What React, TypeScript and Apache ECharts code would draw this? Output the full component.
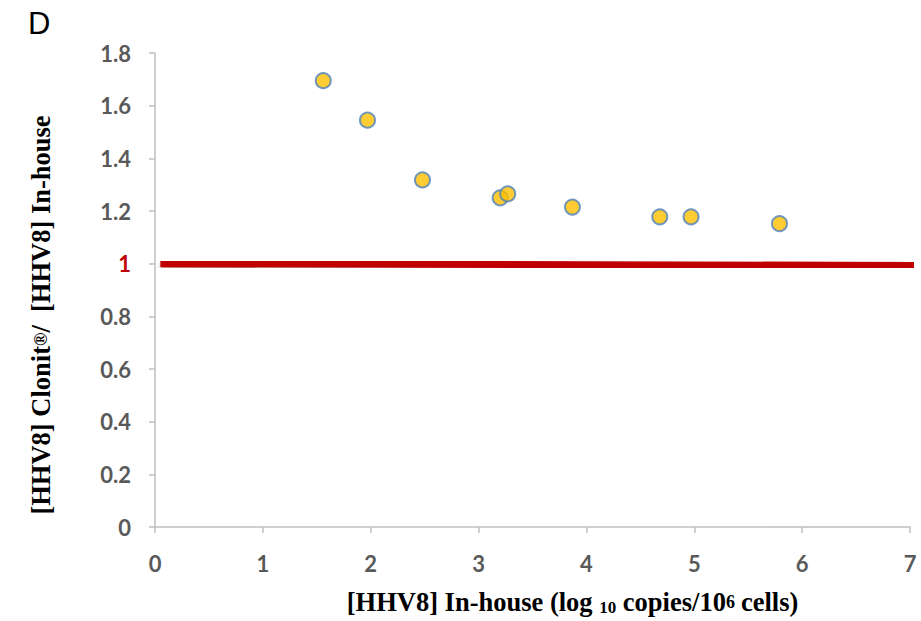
import React, { useEffect, useRef } from "react";
import * as echarts from "echarts";

const xValues = [1.56, 1.97, 2.48, 3.2, 3.27, 3.87, 4.68, 4.97, 5.79];
const yValues = [1.695, 1.545, 1.318, 1.25, 1.265, 1.215, 1.178, 1.178, 1.152];
const refLine = [
  [0.05, 1.0],
  [7.05, 0.993],
];
const xTicks = [0, 1, 2, 3, 4, 5, 6, 7];
const yTicks = [0, 0.2, 0.4, 0.6, 0.8, 1, 1.2, 1.4, 1.6, 1.8];

export default function App() {
  const ref = useRef<HTMLDivElement>(null);
  useEffect(() => {
    if (!ref.current) return;
    const chart = echarts.init(ref.current, undefined, { renderer: "svg" });
    const tickLabel = {
      fontFamily: "Lato",
      fontWeight: "bold" as const,
      fontSize: 22,
      color: "#595959",
    };
    const serif = "'Liberation Serif', 'Times New Roman', serif";
    chart.setOption({
      animation: false,
      backgroundColor: "#ffffff",
      grid: { left: 155, right: 11, top: 53, bottom: 82, containLabel: false },
      graphic: [
        {
          type: "text",
          left: 28,
          top: 8,
          style: { text: "D", fontSize: 31, fontFamily: "'Liberation Sans', Arial, sans-serif", fill: "#000" },
        },
      ],
      xAxis: {
        type: "value",
        min: xTicks[0],
        max: xTicks[xTicks.length - 1],
        interval: 1,
        splitLine: { show: false },
        axisLine: { show: true, lineStyle: { color: "#BFBFBF", width: 1.5 } },
        axisTick: { show: true, length: 6, lineStyle: { color: "#BFBFBF", width: 1.5 } },
        axisLabel: { ...tickLabel, margin: 25 },
        name: "{b|[HHV8] In-house (log }{sub|10}{b| copies/10}{sup|6}{b|cells)}",
        nameLocation: "middle",
        nameGap: 59,
        nameTextStyle: {
          padding: [0, 0, 0, 80],
          rich: {
            b: { fontFamily: serif, fontWeight: "bold", fontSize: 26.5, color: "#000", verticalAlign: "middle", height: 31 },
            sub: { fontFamily: serif, fontWeight: "bold", fontSize: 17, color: "#000", verticalAlign: "bottom", height: 31, padding: [0, 0, -6, 0] },
            sup: { fontFamily: serif, fontWeight: "bold", fontSize: 18, color: "#000", verticalAlign: "top", height: 31, padding: [0, 6, 0, 0] },
          },
        },
      },
      yAxis: {
        type: "value",
        min: 0,
        max: 1.8,
        interval: 0.2,
        splitLine: { show: false },
        axisLine: { show: true, lineStyle: { color: "#BFBFBF", width: 1.5 } },
        axisTick: { show: true, length: 6, lineStyle: { color: "#BFBFBF", width: 1.5 } },
        axisLabel: {
          ...tickLabel,
          margin: 24,
          formatter: (v: number) => {
            const s = String(Math.round(v * 10) / 10);
            return v === 1 ? "{red|" + s + "}" : s;
          },
          rich: {
            red: { fontFamily: "Lato", fontWeight: "bold", fontSize: 22, color: "#C00000" },
          },
        },
        name: "{b|[HHV8] Clonit}{sup|®}{b|/  [HHV8] In-house}",
        nameLocation: "middle",
        nameGap: 99,
        nameRotate: 90,
        nameTextStyle: {
          padding: [0, 50, 0, 0],
          rich: {
            b: { fontFamily: serif, fontWeight: "bold", fontSize: 26.5, color: "#000", verticalAlign: "middle", height: 31 },
            sup: { fontFamily: serif, fontWeight: "bold", fontSize: 18, color: "#000", verticalAlign: "top", height: 31 },
          },
        },
      },
      series: [
        {
          type: "line",
          data: refLine,
          symbol: "none",
          clip: false,
          z: 1,
          lineStyle: {
            color: "#C00000",
            width: 7,
            shadowColor: "rgba(0,0,0,0.4)",
            shadowBlur: 5,
            shadowOffsetY: 3,
            shadowOffsetX: 1,
          },
        },
        {
          type: "scatter",
          data: xValues.map((x, i) => [x, yValues[i]]),
          symbol: "circle",
          symbolSize: 15,
          z: 3,
          itemStyle: { color: "#FFC000", borderColor: "#4F81BD", borderWidth: 2 },
        },
      ],
    });
    return () => chart.dispose();
  }, []);
  return <div ref={ref} style={{ width: 921, height: 621, position: "absolute", left: 0, top: 0 }} />;
}
